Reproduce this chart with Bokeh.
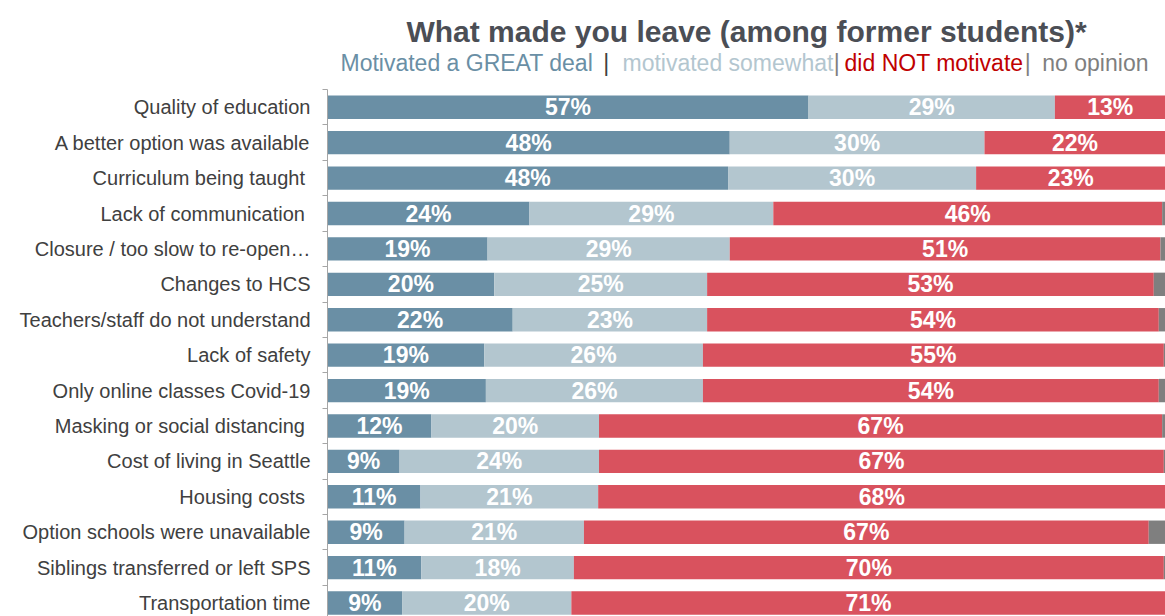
from bokeh.plotting import figure
from bokeh.models import Range1d, FixedTicker, Label
from bokeh.embed import file_html
from bokeh.resources import INLINE
from bokeh.core.properties import value

categories = [
    "Quality of education",
    "A better option was available",
    "Curriculum being taught ",
    "Lack of communication ",
    "Closure / too slow to re-open\u2026",
    "Changes to HCS",
    "Teachers/staff do not understand",
    "Lack of safety",
    "Only online classes Covid-19",
    "Masking or social distancing ",
    "Cost of living in Seattle",
    "Housing costs ",
    "Option schools were unavailable",
    "Siblings transferred or left SPS",
    "Transportation time",
]
great_deal = [57.4, 48.0, 47.8, 24.1, 19.1, 19.9, 22.1, 18.7, 18.9, 12.4, 8.6, 11.1, 9.2, 11.2, 8.9]
somewhat = [29.4, 30.4, 29.6, 29.1, 28.9, 25.4, 23.2, 26.1, 25.9, 20.0, 23.8, 21.2, 21.4, 18.2, 20.2]
did_not = [13.2, 21.6, 22.6, 46.4, 51.4, 53.3, 53.9, 55.0, 54.4, 67.2, 67.4, 67.7, 67.4, 70.4, 70.9]
no_opinion = [0.0, 0.0, 0.0, 0.4, 0.6, 1.4, 0.8, 0.2, 0.8, 0.4, 0.2, 0.0, 2.0, 0.2, 0.0]

C_GREAT = "#6a8fa5"
C_SOME = "#b3c6cf"
C_NOT = "#d9525e"
C_NONE = "#7f7f7f"
FONT = "Liberation Sans"

n = len(categories)
ypos = list(range(n))

p = figure(width=1165, height=616, output_backend="svg", toolbar_location=None,
           x_range=Range1d(0, 100), y_range=Range1d(14.38, -3.015),
           x_axis_location=None,
           min_border_left=327, min_border_right=0, min_border_top=0, min_border_bottom=0)
p.outline_line_color = None
p.grid.visible = False
p.background_fill_color = "white"

series = [great_deal, somewhat, did_not, no_opinion]
colors = [C_GREAT, C_SOME, C_NOT, C_NONE]
lefts = [0.0] * n
for k, (vals, col) in enumerate(zip(series, colors)):
    rights = [l + v for l, v in zip(lefts, vals)]
    p.hbar(y=ypos, left=lefts, right=rights, height=0.66, fill_color=col, line_color=None)
    if k < 3:
        mids = [(l + r) / 2 for l, r in zip(lefts, rights)]
        labels = [f"{v:.0f}%" for v in vals]
        p.text(x=mids, y=ypos, text=labels, text_align="center", text_baseline="middle",
               text_color="white", text_font=value(FONT), text_font_style="bold",
               text_font_size="23px")
    lefts = rights

ax = p.yaxis[0]
ax.bounds = (-0.5, n - 0.5)
ax.ticker = FixedTicker(ticks=ypos, minor_ticks=[i - 0.5 for i in range(n + 1)])
ax.major_label_overrides = {i: c for i, c in enumerate(categories)}
ax.major_tick_line_color = None
ax.major_tick_out = 0
ax.major_tick_in = 0
ax.minor_tick_line_color = "#a6a6a6"
ax.minor_tick_out = 5
ax.minor_tick_in = 0
ax.axis_line_color = "#a6a6a6"
ax.major_label_standoff = 12
ax.major_label_text_font = FONT
ax.major_label_text_font_size = "20px"
ax.major_label_text_color = "#404040"

# title and multi-coloured subtitle, placed in data units above the bars
p.add_layout(Label(x=50, y=-2.13, text="What made you leave (among former students)*",
                   text_align="center", text_baseline="alphabetic",
                   text_font=FONT, text_font_style="bold", text_font_size="30px",
                   text_color="#4b4e55"))
pieces = [
    (1.55, "Motivated a GREAT deal", C_GREAT),
    (32.9, "|", "#404040"),
    (35.2, "motivated somewhat", C_SOME),
    (60.4, "|", "#7f7f7f"),
    (61.7, "did NOT motivate", "#c00000"),
    (83.2, "|", "#7f7f7f"),
    (85.3, "no opinion", "#7f7f7f"),
]
for x0, t, col in pieces:
    p.add_layout(Label(x=x0, y=-1.25, text=t,
                       text_align="left", text_baseline="alphabetic",
                       text_font=FONT, text_font_size="23px", text_color=col))

open("out.html", "w").write(file_html(p, INLINE))
